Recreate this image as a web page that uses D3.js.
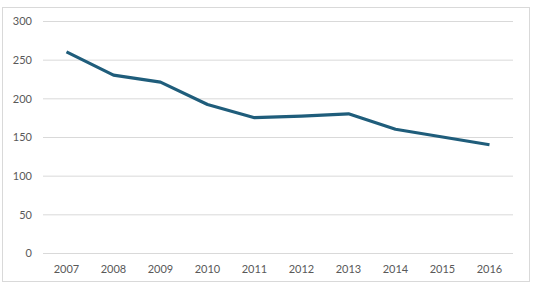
<!DOCTYPE html>
<html>
<head>
<meta charset="utf-8">
<script src="https://cdn.jsdelivr.net/npm/d3@7"></script>
<style>
  body { margin: 0; background: #fff; }
  text { font-family: Lato, "Open Sans", sans-serif; font-size: 11px; fill: #595959; }
</style>
</head>
<body>
<svg width="535" height="283"></svg>
<script>
var years = ["2007", "2008", "2009", "2010", "2011", "2012", "2013", "2014", "2015", "2016"];
var values = [260, 230, 221, 192, 175, 177, 180, 160, 150, 140];
var yTicks = [0, 50, 100, 150, 200, 250, 300];

var svg = d3.select("svg"),
    margin = {top: 21, right: 22, bottom: 30, left: 43},
    width = 513 - margin.left,
    height = 253 - margin.top;

// chart frame
svg.append("rect")
    .attr("x", 2.5).attr("y", 7.5)
    .attr("width", 527).attr("height", 274)
    .attr("fill", "#fff")
    .attr("stroke", "#d9d9d9");

var xScale = d3.scaleBand().domain(years).range([0, width]),
    yScale = d3.scaleLinear().domain([0, 300]).range([height, 0]);

var g = svg.append("g")
    .attr("transform", "translate(" + margin.left + "," + margin.top + ")");

// gridlines + y labels
var yAxis = g.append("g")
    .call(d3.axisLeft(yScale).tickValues(yTicks).tickSize(-width).tickPadding(11));
yAxis.select(".domain").remove();
yAxis.selectAll("line").attr("stroke", "#d9d9d9");
yAxis.selectAll("text").attr("fill", null).attr("dy", "0.35em");

// x labels
var xAxis = g.append("g")
    .attr("transform", "translate(0," + height + ")")
    .call(d3.axisBottom(xScale).tickSize(0).tickPadding(12));
xAxis.select(".domain").remove();
xAxis.selectAll("text").attr("fill", null);

var line = d3.line()
    .x(function(d, i) { return xScale(years[i]) + xScale.bandwidth() / 2; })
    .y(function(d) { return yScale(d); });

g.append("path")
    .datum(values)
    .attr("fill", "none")
    .attr("stroke", "#1f5d7b")
    .attr("stroke-width", 3.2)
    .attr("stroke-linejoin", "round")
    .attr("d", line);
</script>
</body>
</html>
